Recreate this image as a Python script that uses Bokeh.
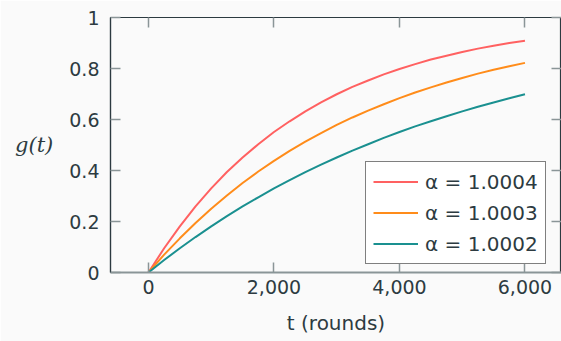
from bokeh.plotting import figure
from bokeh.models import Range1d, LinearAxis, FixedTicker, NumeralTickFormatter, Label, Legend
from bokeh.embed import file_html
from bokeh.resources import INLINE

# Data
t_rounds = [0, 250, 500, 750, 1000, 1250, 1500, 1750, 2000, 2250, 2500, 2750, 3000,
            3250, 3500, 3750, 4000, 4250, 4500, 4750, 5000, 5250, 5500, 5750, 6000]
g_a10004 = [0, 0.095, 0.181, 0.259, 0.330, 0.394, 0.451, 0.503, 0.551, 0.593, 0.632, 0.667, 0.699,
            0.728, 0.753, 0.777, 0.798, 0.817, 0.835, 0.850, 0.865, 0.878, 0.889, 0.900, 0.909]
g_a10003 = [0, 0.070, 0.134, 0.194, 0.250, 0.302, 0.351, 0.396, 0.438, 0.477, 0.513, 0.547, 0.579,
            0.608, 0.635, 0.660, 0.684, 0.706, 0.726, 0.745, 0.763, 0.780, 0.795, 0.809, 0.822]
g_a10002 = [0, 0.049, 0.095, 0.139, 0.181, 0.221, 0.259, 0.295, 0.330, 0.362, 0.394, 0.423, 0.451,
            0.478, 0.503, 0.528, 0.551, 0.573, 0.593, 0.613, 0.632, 0.650, 0.667, 0.683, 0.699]
series_labels = ["α = 1.0004", "α = 1.0003", "α = 1.0002"]
series_colors = ["#ff6161", "#ff8c1a", "#1a9090"]
x_ticks = [0, 2000, 4000, 6000]
y_ticks = [0, 0.2, 0.4, 0.6, 0.8, 1]
y_tick_labels = {0: "0", 0.2: "0.2", 0.4: "0.4", 0.6: "0.6", 0.8: "0.8", 1: "1"}

TEXT = "#2d3b41"
DARK = "#2c3a40"
GREY = "#8a9597"
BG = "#fafafa"
FONT = "DejaVu Sans"

p = figure(width=561, height=341, x_range=Range1d(-605, 6582), y_range=Range1d(0, 1),
           output_backend="svg", toolbar_location=None,
           min_border_left=110, min_border_top=17, min_border_right=0, min_border_bottom=69,
           background_fill_color=BG, border_fill_color=BG)
p.grid.visible = False
p.outline_line_color = DARK
p.outline_line_width = 1.2

# bottom axis
xa = p.xaxis[0]
xa.ticker = FixedTicker(ticks=x_ticks)
xa.formatter = NumeralTickFormatter(format="0,0")
xa.axis_line_color = GREY
xa.axis_line_width = 2
xa.major_tick_in = 10
xa.major_tick_out = 0
xa.major_tick_line_color = GREY
xa.major_tick_line_width = 1.5
xa.minor_tick_line_color = None
xa.major_label_text_font = FONT
xa.major_label_text_font_size = "19px"
xa.major_label_text_color = TEXT
xa.major_label_standoff = 7
xa.axis_label = "t (rounds)"
xa.axis_label_text_font = FONT
xa.axis_label_text_font_style = "normal"
xa.axis_label_text_font_size = "20px"
xa.axis_label_text_color = TEXT
xa.axis_label_standoff = 14

# left axis
ya = p.yaxis[0]
ya.ticker = FixedTicker(ticks=y_ticks)
ya.major_label_overrides = y_tick_labels
ya.axis_line_color = DARK
ya.axis_line_width = 1.2
ya.major_tick_in = 10
ya.major_tick_out = 0
ya.major_tick_line_color = GREY
ya.major_tick_line_width = 1.5
ya.minor_tick_line_color = None
ya.major_label_text_font = FONT
ya.major_label_text_font_size = "19px"
ya.major_label_text_color = TEXT
ya.major_label_standoff = 11

horizontal_label = False
try:
    ya.axis_label_orientation = "horizontal"
    horizontal_label = True
except Exception:
    horizontal_label = False

if horizontal_label:
    ya.axis_label = "g(t)"
    ya.axis_label_text_font = "DejaVu Serif"
    ya.axis_label_text_font_style = "italic"
    ya.axis_label_text_font_size = "21px"
    ya.axis_label_text_color = TEXT
    ya.axis_label_standoff = 13
else:
    ylab = Label(x=-77, y=0.5, x_units="screen", y_units="data", text="g(t)",
                 text_font="DejaVu Serif", text_font_style="italic", text_font_size="21px",
                 text_color=TEXT, text_align="center", text_baseline="middle")
    p.add_layout(ylab)

# mirrored axes (ticks only, no labels)
top = LinearAxis(ticker=FixedTicker(ticks=x_ticks), major_tick_in=10, major_tick_out=0,
                 major_tick_line_color=GREY, major_tick_line_width=1.5, minor_tick_line_color=None,
                 axis_line_color=DARK, major_label_overrides={v: "" for v in x_ticks},
                 major_label_standoff=0)
p.add_layout(top, "above")
right = LinearAxis(ticker=FixedTicker(ticks=y_ticks), major_tick_in=10, major_tick_out=0,
                   major_tick_line_color=GREY, major_tick_line_width=1.5, minor_tick_line_color=None,
                   axis_line_color=DARK, major_label_overrides={v: "" for v in y_ticks},
                   major_label_standoff=0)
p.add_layout(right, "right")

items = []
for ys, lab, col in zip([g_a10004, g_a10003, g_a10002], series_labels, series_colors):
    r = p.line(t_rounds, ys, line_color=col, line_width=2)
    items.append((lab, [r]))

legend = Legend(items=items, location=(255, 8), margin=0)
legend.border_line_color = "black"
legend.border_line_width = 1
legend.background_fill_color = "white"
legend.background_fill_alpha = 1
legend.label_text_font = FONT
legend.label_text_font_size = "20px"
legend.label_text_color = TEXT
legend.glyph_width = 45
legend.glyph_height = 25
legend.label_height = 25
legend.label_standoff = 7
legend.padding = 7
legend.spacing = 6
p.add_layout(legend, "center")

open("out.html", "w").write(file_html(p, INLINE))
